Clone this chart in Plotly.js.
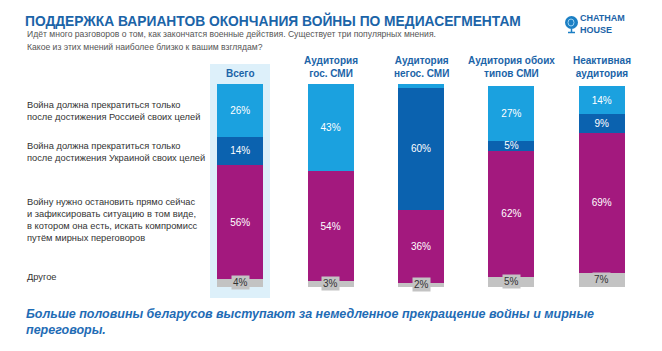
<!DOCTYPE html>
<html><head><meta charset="utf-8">
<script src="https://cdn.plot.ly/plotly-3.0.1.min.js"></script>
<style>body{margin:0;background:#fff}#c{width:662px;height:351px}</style>
</head><body><div id="c"></div>
<script>
// ---- data ----
const categories = ["Всего", "Аудитория<br>гос. СМИ", "Аудитория<br>негос. СМИ", "Аудитория обоих<br>типов СМИ", "Неактивная<br>аудитория"];
const seriesNames = [
  "Война должна прекратиться только<br>после достижения Россией своих целей",
  "Война должна прекратиться только<br>после достижения Украиной своих целей",
  "Войну нужно остановить прямо сейчас<br>и зафиксировать ситуацию в том виде,<br>в котором она есть, искать компромисс<br>путём мирных переговоров",
  "Другое"
];
const russiaGoals  = [26, 43, 2, 27, 14];
const ukraineGoals = [14, 0, 60, 5, 9];
const stopNow      = [56, 54, 36, 62, 69];
const other        = [4, 3, 2, 5, 7];

// ---- geometry helpers (plot area 195..647 x 84..287) ----
const PL = 195, PR = 647, PT = 84, PB = 287;
const px = v => (v - PL) / (PR - PL);
const py = v => (PB - v) / (PB - PT);

const C_LB = "#1BA1DF", C_DB = "#0B62AF", C_MG = "#A3197E", C_GR = "#C3C3C3";
const xs = categories.map((c, i) => i);
const lbl = arr => arr.map(v => v > 2 ? v + "%" : "");

function bar(vals, color, name, withText) {
  return {
    type: "bar", x: xs, y: vals, name: name,
    marker: {color: color, line: {width: 0}},
    text: withText ? lbl(vals) : undefined,
    textposition: withText ? "inside" : "none",
    insidetextanchor: "middle",
    textfont: {family: "Liberation Sans, Arial", size: 10, color: "#ffffff"},
    constraintext: "none",
    hoverinfo: "skip"
  };
}
const data = [
  bar(other, C_GR, seriesNames[3], false),
  bar(stopNow, C_MG, seriesNames[2], true),
  bar(ukraineGoals, C_DB, seriesNames[1], true),
  bar(russiaGoals, C_LB, seriesNames[0], true)
];

const FONT = "Liberation Sans, Arial, sans-serif";
const TITLE_BLUE = "#1B64A8";
const annotations = [];

// category headers
categories.forEach((c, i) => {
  annotations.push({xref: "x", yref: "paper", x: i, y: 1, yshift: 3, xanchor: "center", yanchor: "bottom",
    text: "<b>" + c + "</b>", showarrow: false, align: "center",
    font: {family: FONT, size: 10, color: TITLE_BLUE}});
});
// "Другое" labels with grey box
other.forEach((v, i) => {
  annotations.push({xref: "x", yref: "y", x: i, y: v / 2, text: v + "%", showarrow: false,
    bgcolor: C_GR, borderpad: 1, font: {family: FONT, size: 10, color: "#333333"}});
});
// row labels on the left
const rowY = [111, 151.5, 219.5, 277];
seriesNames.forEach((s, i) => {
  annotations.push({xref: "paper", yref: "paper", x: px(25), y: py(rowY[i]), xanchor: "left", yanchor: "middle",
    align: "left", text: s, showarrow: false, font: {family: FONT, size: 9.3, color: "#333333"}});
});
// subtitle
annotations.push({xref: "paper", yref: "paper", x: px(25), y: py(34), xanchor: "left", yanchor: "middle", align: "left",
  text: "Идёт много разговоров о том, как закончатся военные действия. Существует три популярных мнения.",
  showarrow: false, font: {family: FONT, size: 8.6, color: "#555555"}});
annotations.push({xref: "paper", yref: "paper", x: px(25), y: py(47), xanchor: "left", yanchor: "middle", align: "left",
  text: "Какое из этих мнений наиболее близко к вашим взглядам?",
  showarrow: false, font: {family: FONT, size: 8.6, color: "#555555"}});
// footer
annotations.push({xref: "paper", yref: "paper", x: px(24), y: py(322), xanchor: "left", yanchor: "middle", align: "left",
  text: "<b><i>Больше половины беларусов выступают за немедленное прекращение войны и мирные<br>переговоры.</i></b>",
  showarrow: false, font: {family: FONT, size: 12.5, color: "#1F6CB5"}});
// logo text
annotations.push({xref: "paper", yref: "paper", x: px(579), y: py(24), xanchor: "left", yanchor: "middle", align: "left",
  text: "<b>CHATHAM<br>HOUSE</b>", showarrow: false, borderpad: 0,
  font: {family: FONT, size: 9, color: TITLE_BLUE}});

const shapes = [
  {type: "rect", xref: "paper", yref: "paper", x0: px(210), x1: px(270), y0: py(298), y1: py(64),
   fillcolor: "#DDF0FA", line: {width: 0}, layer: "below"},
  {type: "circle", xref: "paper", yref: "paper", x0: px(565), x1: px(578), y0: py(29), y1: py(16),
   fillcolor: "#1B7FC4", line: {width: 0}},
  {type: "circle", xref: "paper", yref: "paper", x0: px(568), x1: px(574), y0: py(26), y1: py(19),
   fillcolor: "rgba(0,0,0,0)", line: {width: 1, color: "#9ED3F2"}},
  {type: "line", xref: "paper", yref: "paper", x0: px(571.5), x1: px(571.5), y0: py(29), y1: py(32),
   line: {width: 1.5, color: "#1B7FC4"}},
  {type: "line", xref: "paper", yref: "paper", x0: px(568), x1: px(575), y0: py(32.5), y1: py(32.5),
   line: {width: 1.5, color: "#1B7FC4"}}
];

const layout = {
  width: 662, height: 351,
  margin: {l: PL, r: 662 - PR, t: PT, b: 351 - PB, pad: 0},
  paper_bgcolor: "#ffffff", plot_bgcolor: "rgba(0,0,0,0)",
  barmode: "stack", bargap: 0.49,
  showlegend: false,
  title: {text: "<b>ПОДДЕРЖКА ВАРИАНТОВ ОКОНЧАНИЯ ВОЙНЫ ПО МЕДИАСЕГМЕНТАМ</b>", x: 25 / 662, xanchor: "left",
    y: 1 - 21 / 351, yanchor: "middle", font: {family: FONT, size: 13.8, color: TITLE_BLUE}},
  xaxis: {range: [-0.5, 4.5], showticklabels: false, showgrid: false, zeroline: false, showline: false, fixedrange: true},
  yaxis: {range: [0, 100], showticklabels: false, showgrid: false, zeroline: false, showline: false, fixedrange: true},
  annotations: annotations,
  shapes: shapes,
  uniformtext: {mode: false}
};
Plotly.newPlot("c", data, layout, {displayModeBar: false, staticPlot: true});
</script></body></html>
